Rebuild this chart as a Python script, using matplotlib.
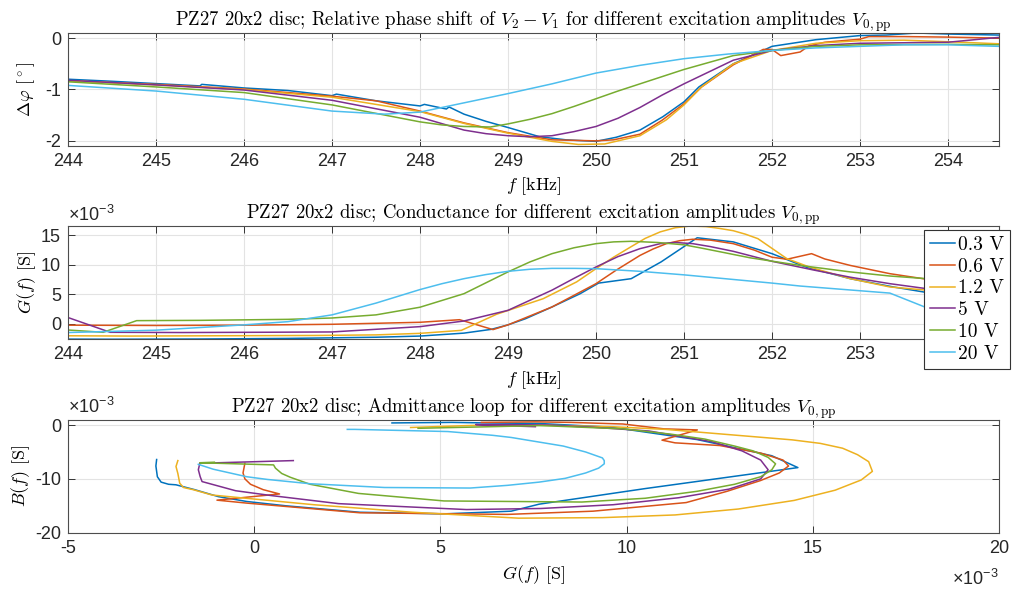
import matplotlib
matplotlib.use("Agg")
import matplotlib.pyplot as plt

plt.rcParams["font.family"] = "Liberation Sans"
plt.rcParams["mathtext.fontset"] = "cm"
plt.rcParams["axes.unicode_minus"] = False

SERIF = "cmr10"

LABELS = ["0.3 V", "0.6 V", "1.2 V", "5 V", "10 V", "20 V"]
COLORS = ["#0072BD", "#D95319", "#EDB120", "#7E2F8E", "#77AC30", "#4DBEEE"]

# ---- phase shift dphi [deg] vs f [kHz] ----
PH_F_03 = [244.0, 244.5, 245.0, 245.5, 245.52, 246.0, 246.5, 247.0, 247.05, 247.5, 247.8,
           248.0, 248.05, 248.3, 248.33, 248.5, 248.75, 249.0, 249.36, 249.66, 250.0, 250.23,
           250.5, 250.76, 251.0, 251.17, 251.56, 251.9, 252.0, 252.5, 253.0, 253.3, 253.64,
           254.0, 254.58]
PH_03 = [-0.80, -0.84, -0.885, -0.93, -0.90, -0.97, -1.02, -1.12, -1.09, -1.22, -1.28,
         -1.32, -1.29, -1.38, -1.34, -1.48, -1.62, -1.74, -1.92, -1.98, -2.01, -1.93,
         -1.79, -1.53, -1.24, -0.95, -0.50, -0.24, -0.16, -0.03, 0.05, 0.06, 0.10,
         0.08, 0.06]
PH_F_06 = [244.0, 245.0, 246.0, 247.0, 247.5, 248.0, 248.5, 249.0, 249.5, 250.0, 250.2,
           250.5, 250.75, 251.0, 251.2, 251.56, 251.9, 252.0, 252.1, 252.32, 252.42, 252.6,
           253.0, 253.1, 253.5, 254.0, 254.58]
PH_06 = [-0.83, -0.90, -0.99, -1.13, -1.22, -1.42, -1.65, -1.84, -1.98, -2.00, -1.98,
         -1.87, -1.60, -1.28, -0.95, -0.52, -0.22, -0.22, -0.34, -0.27, -0.15, -0.08,
         -0.02, 0.03, 0.03, 0.02, 0.00]
PH_F_12 = [244.0, 245.0, 246.0, 247.0, 248.0, 248.5, 249.0, 249.5, 249.8, 250.1, 250.5,
           250.8, 251.0, 251.2, 251.56, 252.0, 252.5, 253.0, 253.5, 254.0, 254.58]
PH_12 = [-0.83, -0.91, -1.00, -1.15, -1.43, -1.66, -1.85, -2.01, -2.07, -2.06, -1.90,
         -1.59, -1.30, -0.95, -0.50, -0.24, -0.10, -0.05, -0.04, -0.07, -0.11]
PH_F_5 = [244.0, 245.0, 246.0, 247.0, 248.0, 248.5, 248.75, 249.0, 249.25, 249.5, 249.75,
          250.0, 250.25, 250.5, 250.75, 251.0, 251.56, 252.0, 252.5, 253.0, 254.0, 254.58]
PH_5 = [-0.82, -0.91, -1.01, -1.21, -1.54, -1.79, -1.86, -1.90, -1.92, -1.90, -1.82,
        -1.72, -1.56, -1.35, -1.11, -0.89, -0.43, -0.24, -0.145, -0.10, -0.08, 0.015]
PH_F_10 = [244.0, 245.0, 246.0, 247.0, 248.0, 248.25, 248.5, 248.8, 249.0, 249.25, 249.5,
           249.75, 250.0, 250.25, 250.5, 250.75, 251.0, 251.56, 252.0, 252.5, 253.0, 254.0,
           254.58]
PH_10 = [-0.85, -0.95, -1.06, -1.30, -1.63, -1.69, -1.72, -1.73, -1.67, -1.58, -1.47,
         -1.33, -1.18, -1.03, -0.89, -0.75, -0.61, -0.34, -0.24, -0.16, -0.13, -0.12,
         -0.13]
PH_F_20 = [244.0, 245.0, 246.0, 247.0, 247.6, 248.0, 248.5, 249.0, 249.5, 250.0, 250.5,
           251.0, 251.5, 252.0, 252.5, 253.0, 253.5, 254.0, 254.58]
PH_20 = [-0.92, -1.03, -1.19, -1.42, -1.48, -1.44, -1.26, -1.08, -0.89, -0.68, -0.53,
         -0.40, -0.31, -0.24, -0.19, -0.16, -0.13, -0.13, -0.16]

# ---- conductance G and susceptance B [1e-3 S] vs f [kHz] ----
F_03 = [244.0, 244.5, 245.5, 246.5, 247.5, 248.0, 248.5, 248.81, 249.0, 249.2, 249.5,
        249.82, 250.03, 250.4, 250.74, 251.15, 251.56, 252.0, 252.39, 252.89, 253.38,
        253.76, 254.58]
G_03 = [-2.62, -2.64, -2.6, -2.5, -2.3, -2.1, -1.6, -0.96, -0.2, 0.85, 2.84,
        5.1, 6.9, 7.65, 10.5, 14.6, 13.9, 11.9, 9.6, 7.65, 6.24,
        5.3, 3.7]
B_03 = [-6.4, -7.6, -9.6, -10.6, -11.0, -11.1, -12.0, -13.3, -14.2, -15.0, -16.2,
        -16.5, -16.0, -14.7, -11.8, -7.9, -5.7, -2.7, -0.4, 0.3, 0.4,
        0.5, 0.4]

F_06 = [244.0, 245.0, 246.0, 247.0, 248.0, 248.45, 248.83, 249.0, 249.5, 250.0, 250.23,
        250.5, 250.65, 250.8, 250.95, 251.1, 251.3, 251.56, 251.8, 252.0, 252.17, 252.45,
        252.6, 252.89, 253.34, 253.76, 254.58]
G_06 = [-0.25, -0.3, -0.25, -0.1, 0.24, 0.68, -1.0, -0.2, 2.84, 6.8, 9.1,
        11.6, 12.7, 13.6, 14.1, 14.35, 14.2, 13.6, 12.5, 11.3, 10.95, 11.9,
        11.0, 9.9, 8.5, 7.55, 6.1]
B_06 = [-7.1, -8.9, -10.0, -11.0, -12.0, -12.8, -13.95, -14.5, -16.3, -16.6, -16.0,
        -14.4, -12.3, -10.3, -8.9, -7.6, -6.5, -5.2, -3.8, -3.3, -2.8, -0.9,
        -0.7, 0.2, 0.5, 0.6, 0.5]

F_12 = [244.0, 244.7, 245.7, 246.8, 247.5, 248.0, 248.47, 248.87, 249.4, 249.78, 250.0,
        250.2, 250.39, 250.56, 250.73, 250.9, 251.07, 251.25, 251.4, 251.56, 251.7,
        251.84, 252.17, 252.43, 252.89, 253.34, 253.76, 254.58]
G_12 = [-2.05, -2.1, -2.05, -2.0, -1.9, -1.64, -1.13, 1.6, 4.25, 7.1, 9.35,
        11.3, 13.0, 14.5, 15.6, 16.3, 16.6, 16.5, 16.2, 15.8, 15.2,
        14.45, 11.05, 9.6, 7.65, 6.24, 5.7, 4.2]
B_12 = [-6.6, -7.7, -9.0, -10.8, -11.6, -12.0, -13.0, -14.8, -16.2, -17.3, -17.2,
        -16.7, -15.6, -14.0, -12.1, -10.2, -8.6, -6.8, -5.5, -4.3, -3.4,
        -2.75, -0.8, -0.3, 0.0, 0.0, -0.1, -0.45]

F_5 = [244.0, 244.48, 245.3, 246.3, 247.0, 248.0, 248.5, 249.0, 249.5, 249.75, 250.0,
       250.25, 250.5, 250.73, 250.9, 251.1, 251.3, 251.56, 252.0, 252.48, 252.89, 253.34,
       253.76, 254.2, 254.58]
G_5 = [1.05, -1.46, -1.5, -1.45, -1.4, -0.5, 0.46, 2.27, 5.7, 7.7, 9.64,
       11.4, 12.75, 13.6, 13.8, 13.6, 13.1, 12.3, 10.6, 9.1, 7.9, 6.8,
       5.95, 6.2, 7.55]
B_5 = [-6.6, -7.1, -8.3, -9.6, -10.5, -12.2, -13.1, -14.6, -15.7, -15.5, -14.8,
       -13.5, -11.9, -10.0, -8.3, -6.5, -4.8, -3.1, -1.1, -0.4, 0.0, 0.1,
       0.1, 0.0, -0.3]

F_10 = [244.0, 244.4, 244.78, 245.5, 246.5, 247.0, 247.5, 248.0, 248.5, 249.0, 249.25,
        249.5, 249.75, 250.0, 250.2, 250.4, 250.7, 251.0, 251.18, 251.45, 251.75, 252.32,
        252.89, 253.34, 253.76, 254.58]
G_10 = [-1.07, -1.46, 0.52, 0.57, 0.74, 0.97, 1.5, 2.8, 5.1, 8.8, 10.5,
        11.9, 12.9, 13.6, 13.9, 14.0, 13.8, 13.4, 12.9, 12.1, 11.2, 9.9,
        8.8, 8.1, 7.65, 4.4]
B_10 = [-6.9, -7.0, -7.4, -8.0, -9.0, -9.7, -11.0, -12.7, -14.1, -14.3, -13.6,
        -12.3, -11.0, -9.6, -8.3, -7.2, -6.0, -4.8, -3.9, -2.6, -1.7, -0.7,
        -0.4, -0.2, -0.1, -0.6]

F_20 = [244.0, 245.0, 246.0, 246.5, 247.0, 247.5, 248.0, 248.25, 248.5, 248.75, 249.0,
        249.25, 249.5, 249.75, 250.0, 250.5, 251.0, 251.5, 252.0, 252.32, 253.34, 253.76,
        254.58]
G_20 = [-1.5, -1.1, -0.2, 0.35, 1.5, 3.5, 5.8, 6.8, 7.65, 8.35, 8.9,
        9.25, 9.4, 9.4, 9.35, 8.9, 8.3, 7.6, 6.9, 6.4, 5.2, 2.7,
        2.5]
B_20 = [-7.3, -8.2, -9.6, -10.1, -10.9, -11.6, -11.7, -11.2, -10.6, -9.9, -8.9,
        -8.0, -7.2, -6.6, -6.1, -5.0, -3.9, -3.1, -2.3, -1.9, -1.2, -0.8,
        -0.8]

PH_F = [PH_F_03, PH_F_06, PH_F_12, PH_F_5, PH_F_10, PH_F_20]
PH = [PH_03, PH_06, PH_12, PH_5, PH_10, PH_20]
FREQ = [F_03, F_06, F_12, F_5, F_10, F_20]
COND = [G_03, G_06, G_12, G_5, G_10, G_20]
SUSC = [B_03, B_06, B_12, B_5, B_10, B_20]

W, H = 1014, 592


def style(ax):
    ax.grid(True, color="#e3e3e3", lw=0.8)
    ax.set_axisbelow(True)
    ax.tick_params(direction="in", top=True, right=True, length=5, width=0.7,
                   color="#333333", labelcolor="#262626", labelsize=13, pad=5)
    for s in ax.spines.values():
        s.set_color("#4d4d4d")
        s.set_linewidth(0.8)


def add_exp(x, y, ha="left"):
    fig.text(x / W, 1 - y / H, r"$\mathregular{\times10^{-3}}$", fontsize=13,
             color="#262626", ha=ha, va="baseline")


fig = plt.figure(figsize=(W / 100, H / 100), dpi=100)
ax1 = fig.add_axes([68 / W, 1 - 146 / H, 931 / W, 113 / H])
ax2 = fig.add_axes([68 / W, 1 - 339.3 / H, 931 / W, 113.3 / H])
ax3 = fig.add_axes([68 / W, 1 - 532.7 / H, 931 / W, 113 / H])

lines = []
for f, p, c in zip(PH_F, PH, COLORS):
    ax1.plot(f, p, color=c, lw=1.1)
for f, g, c in zip(FREQ, COND, COLORS):
    ln, = ax2.plot(f, g, color=c, lw=1.1)
    lines.append(ln)
for g, b, c in zip(COND, SUSC, COLORS):
    ax3.plot(g, b, color=c, lw=1.1)

for ax in (ax1, ax2, ax3):
    style(ax)

TFS = 13.5
ax1.set_xlim(244, 254.58)
ax1.set_ylim(-2.1, 0.1)
ax1.set_xticks(range(244, 255))
ax1.set_yticks([-2, -1, 0])
ax1.set_title(r"PZ27 20x2 disc; Relative phase shift of $V_2-V_1$ for different excitation amplitudes $V_{0,\mathrm{pp}}$",
              fontfamily=SERIF, fontsize=TFS, pad=5)
ax1.set_xlabel(r"$f$ [kHz]", fontfamily=SERIF, fontsize=13, labelpad=4)
ax1.set_ylabel(r"$\Delta\varphi$ [$^\circ$]", fontfamily=SERIF, fontsize=13, labelpad=6)

ax2.set_xlim(244, 254.58)
ax2.set_ylim(-2.65, 16.6)
ax2.set_xticks(range(244, 255))
ax2.set_yticks([0, 5, 10, 15])
ax2.set_title(r"PZ27 20x2 disc; Conductance for different excitation amplitudes $V_{0,\mathrm{pp}}$",
              fontfamily=SERIF, fontsize=TFS, pad=5)
ax2.set_xlabel(r"$f$ [kHz]", fontfamily=SERIF, fontsize=13, labelpad=4)
ax2.set_ylabel(r"$G(f)$ [S]", fontfamily=SERIF, fontsize=13, labelpad=2)
add_exp(68, 221)

ax3.set_xlim(-5, 20)
ax3.set_ylim(-20, 1)
ax3.set_xticks([-5, 0, 5, 10, 15, 20])
ax3.set_yticks([-20, -10, 0])
ax3.set_title(r"PZ27 20x2 disc; Admittance loop for different excitation amplitudes $V_{0,\mathrm{pp}}$",
              fontfamily=SERIF, fontsize=TFS, pad=5)
ax3.set_xlabel(r"$G(f)$ [S]", fontfamily=SERIF, fontsize=13, labelpad=5)
ax3.set_ylabel(r"$B(f)$ [S]", fontfamily=SERIF, fontsize=13, labelpad=2)
add_exp(68, 413)
add_exp(999, 585, ha="right")

leg = ax2.legend(lines, LABELS, loc="upper left", bbox_to_anchor=(924 / W, 1 - 230 / H),
                 bbox_transform=fig.transFigure, prop=dict(family=SERIF, size=14),
                 handlelength=1.3, handletextpad=0.15, labelspacing=0.2,
                 borderpad=0.3, borderaxespad=0, fancybox=False, framealpha=1)
leg.get_frame().set_edgecolor("#333333")
leg.get_frame().set_linewidth(0.8)

fig.savefig("out.png", dpi=100)
